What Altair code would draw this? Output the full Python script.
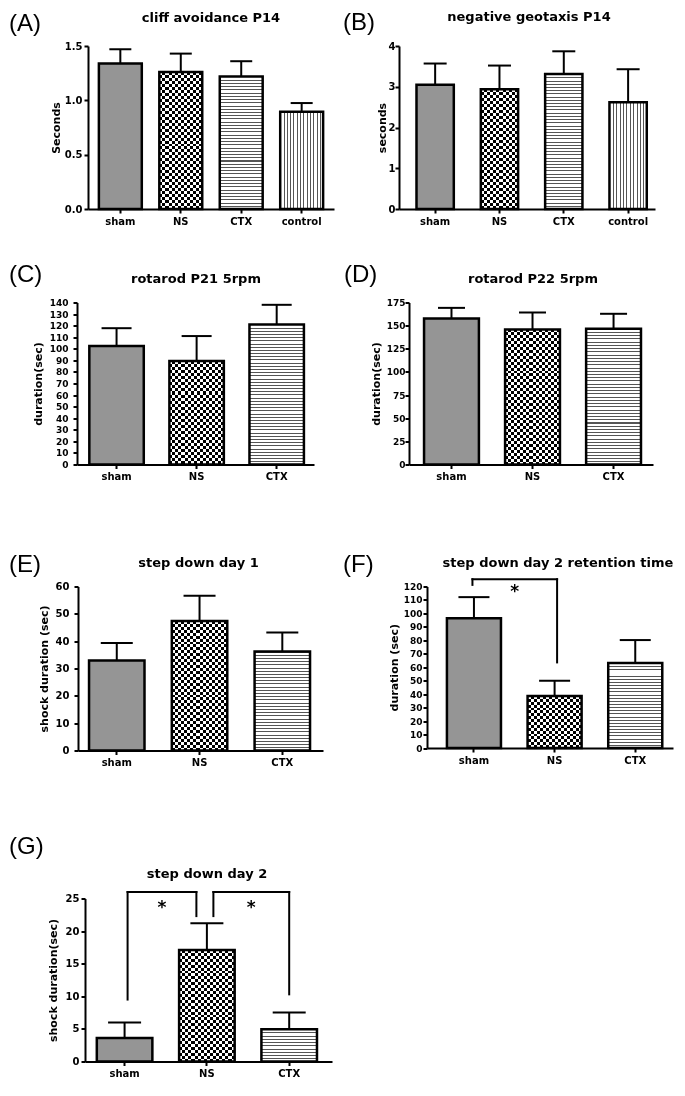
import altair as alt
import pandas as pd

TXT = "DejaVu Sans"
LET = "Liberation Sans"

# ------------------------------------------------------------------ data
groups3 = ["sham", "NS", "CTX"]
groups4 = ["sham", "NS", "CTX", "control"]

A_mean = [1.34, 1.26, 1.22, 0.895]
A_top = [1.47, 1.43, 1.36, 0.975]

B_mean = [3.05, 2.94, 3.31, 2.62]
B_top = [3.57, 3.52, 3.87, 3.43]

C_mean = [102.3, 89.4, 121.0]
C_top = [117.8, 111.0, 138.0]

D_mean = [157.7, 145.9, 146.6]
D_top = [169.2, 164.2, 162.8]

E_mean = [32.9, 47.4, 36.2]
E_top = [39.3, 56.6, 43.2]

F_mean = [96.5, 38.6, 63.1]
F_top = [112.1, 50.0, 80.2]

G_mean = [3.62, 17.1, 4.95]
G_top = [5.97, 21.2, 7.5]

# significance brackets
F_from = ["sham"]
F_to = ["NS"]
F_low_from = [121.2]
F_low_to = [63.6]
F_brk_top = [125.4]
F_star = [119.0]

G_from = ["sham", "NS"]
G_to = ["NS", "CTX"]
G_low_from = [9.5, 22.3]
G_low_to = [22.3, 10.3]
G_brk_top = [26.0, 26.0]
G_star = [24.1, 24.1]

PATTERN = {"sham": "dots", "NS": "check", "CTX": "hstripe", "control": "vstripe"}


def stripes(length_px, period, dark_px, dark, light, horizontal):
    n = max(1, int(round(length_px / period)))
    frac = dark_px / period
    stops = []
    for i in range(n):
        s = i / n
        m = (i + frac) / n
        e = (i + 1) / n
        stops += [alt.GradientStop(offset=s, color=dark),
                  alt.GradientStop(offset=m, color=dark),
                  alt.GradientStop(offset=m, color=light),
                  alt.GradientStop(offset=e, color=light)]
    if horizontal:
        return alt.LinearGradient(gradient="linear", stops=stops, x1=0, x2=0, y1=0, y2=1)
    return alt.LinearGradient(gradient="linear", stops=stops, x1=0, x2=1, y1=0, y2=0)


def panel(letter, title, cats, means, tops, ytitle, ymax, yvals, yfmt,
          width, height, pi, po, align, cap, letter_xy, title_xy,
          ylab_size, lab_pad, title_pad,
          brk=None, brk_off=None):
    n = len(cats)
    step = width / (n - pi + 2 * po)
    bw = step * (1 - pi)
    xscale = alt.Scale(domain=cats, paddingInner=pi, paddingOuter=po, align=align)
    yscale = alt.Scale(domain=[0, ymax], nice=False, zero=True)
    xaxis = alt.Axis(labelAngle=0, labelFont=TXT, labelFontWeight="bold", labelFontSize=10,
                     labelColor="black", labelPadding=3, tickSize=4, tickWidth=2,
                     tickColor="black", domainWidth=2, domainColor="black", grid=False,
                     labelOverlap=False)
    yaxis = alt.Axis(values=yvals, format=yfmt, labelFont=TXT, labelFontWeight="bold",
                     labelFontSize=ylab_size, labelColor="black", labelPadding=lab_pad,
                     tickSize=4, tickWidth=2, tickColor="black", domainWidth=2,
                     domainColor="black", grid=False, labelOverlap=False, labelFlush=False,
                     titleFont=TXT, titleFontSize=11, titleFontWeight="bold",
                     titleColor="black", titlePadding=title_pad)
    X = alt.X("cat:N", scale=xscale, axis=xaxis, title=None)
    Y = alt.Y("y:Q", scale=yscale, axis=yaxis, title=ytitle)

    layers = []
    for c, m in zip(cats, means):
        df = pd.DataFrame({"cat": [c], "y": [m]})
        base = alt.Chart(df).encode(x=X, y=Y)
        hpx = m / ymax * height
        kind = PATTERN[c]
        if kind == "dots":
            layers.append(base.mark_bar(fill="#959595", strokeWidth=0))
        elif kind == "hstripe":
            layers.append(base.mark_bar(fill=stripes(hpx, 3.2, 1.0, "#555555", "#ffffff", True),
                                        strokeWidth=0))
        elif kind == "vstripe":
            layers.append(base.mark_bar(fill=stripes(bw, 3.3, 1.0, "#555555", "#ffffff", False),
                                        strokeWidth=0))
        else:
            layers.append(base.mark_bar(fill=stripes(bw, 6, 3, "#000000", "#ffffff", False),
                                        strokeWidth=0))
            layers.append(base.mark_bar(fill=stripes(hpx, 6, 3, "#ffffff", "#000000", True),
                                        strokeWidth=0, blend="difference"))

    df_all = pd.DataFrame({"cat": cats, "y": means, "y2": tops})
    layers.append(alt.Chart(df_all).mark_bar(fill="transparent", stroke="black", strokeWidth=2.5)
                  .encode(x=X, y=Y))
    layers.append(alt.Chart(df_all).mark_rule(color="black", strokeWidth=2)
                  .encode(x=X, y=Y, y2="y2:Q"))
    df_cap = pd.DataFrame({"cat": cats, "y": tops})
    layers.append(alt.Chart(df_cap).mark_tick(color="black", size=cap, thickness=2, opacity=1,
                                              orient="horizontal")
                  .encode(x=X, y=Y))

    if brk is not None:
        frm, to, lo_a, lo_b, top, star = brk
        for i in range(len(frm)):
            oa, ob = brk_off[i]
            leg_a = pd.DataFrame({"cat": [frm[i]], "y": [lo_a[i]], "y2": [top[i]]})
            leg_b = pd.DataFrame({"cat": [to[i]], "y": [lo_b[i]], "y2": [top[i]]})
            bar_t = pd.DataFrame({"cat": [frm[i]], "cat2": [to[i]], "y": [top[i]]})
            st = pd.DataFrame({"cat": [frm[i]], "y": [star[i]]})
            layers.append(alt.Chart(leg_a).mark_rule(color="black", strokeWidth=2,
                                                     strokeCap="square", xOffset=oa)
                          .encode(x=X, y=Y, y2="y2:Q"))
            layers.append(alt.Chart(leg_b).mark_rule(color="black", strokeWidth=2,
                                                     strokeCap="square", xOffset=ob)
                          .encode(x=X, y=Y, y2="y2:Q"))
            layers.append(alt.Chart(bar_t).mark_rule(color="black", strokeWidth=2,
                                                     strokeCap="square", xOffset=oa, x2Offset=ob)
                          .encode(x=X, x2="cat2:N", y=Y))
            layers.append(alt.Chart(st).mark_text(text="*", font=TXT, fontWeight="bold",
                                                  fontSize=17, color="black",
                                                  dx=(oa + step + ob) / 2, dy=9,
                                                  baseline="alphabetic")
                          .encode(x=X, y=Y))

    lab = pd.DataFrame({"t": [letter]})
    layers.append(alt.Chart(lab).mark_text(font=LET, fontSize=24, align="left",
                                           baseline="middle", color="black")
                  .encode(text="t:N", x=alt.value(letter_xy[0]), y=alt.value(letter_xy[1])))
    ttl = pd.DataFrame({"t": [title]})
    layers.append(alt.Chart(ttl).mark_text(font=TXT, fontSize=13, fontWeight="bold",
                                           align="center", baseline="middle", color="black")
                  .encode(text="t:N", x=alt.value(title_xy[0]), y=alt.value(title_xy[1])))
    return alt.layer(*layers).properties(width=width, height=height)


def spacer():
    # invisible 1x1 anchor so that every row starts at the same left edge
    return alt.Chart(pd.DataFrame({"t": [""]})).mark_text(opacity=0).encode(
        text="t:N").properties(width=1, height=1)


pA = panel("(A)", "cliff avoidance P14", groups4, A_mean, A_top, "Seconds", 1.5,
           [0, 0.5, 1.0, 1.5], ".1f", 246, 163, 0.29, 0.18, 0.5, 22,
           (-79, -22.5), (123, -28), 10, 2, 3)
pB = panel("(B)", "negative geotaxis P14", groups4, B_mean, B_top, "seconds", 4,
           [0, 1, 2, 3, 4], "d", 256, 163, 0.42, 0.2, 0.68, 23,
           (-56, -23.5), (130, -29), 10, 0, 1)
pC = panel("(C)", "rotarod P21 5rpm", groups3, C_mean, C_top, "duration(sec)", 140,
           list(range(0, 141, 10)), "d", 237, 162, 0.32, 0.14, 0.55, 30,
           (-68, -27.5), (119, -24), 9, 5, 6)
pD = panel("(D)", "rotarod P22 5rpm", groups3, D_mean, D_top, "duration(sec)", 175,
           list(range(0, 176, 25)), "d", 244, 162, 0.323, 0.167, 0.556, 27,
           (-65, -27.5), (124, -24), 9, 0, 5)
pE = panel("(E)", "step down day 1", groups3, E_mean, E_top, "shock duration (sec)", 60,
           list(range(0, 61, 10)), "d", 245, 164, 0.33, 0.145, 0.46, 32,
           (-69, -22), (120.5, -24), 10, 5, 6)
pF = panel("(F)", "step down day 2 retention time", groups3, F_mean, F_top, "duration (sec)", 120,
           list(range(0, 121, 10)), "d", 246, 161.5, 0.33, 0.19, 0.65, 31,
           (-84, -22), (131, -24), 9, 1, 4,
           brk=(F_from, F_to, F_low_from, F_low_to, F_brk_top, F_star),
           brk_off=[(-1.5, 2.5)])
pG = panel("(G)", "step down day 2", groups3, G_mean, G_top, "shock duration(sec)", 25,
           list(range(0, 26, 5)), "d", 247, 163, 0.325, 0.163, 0.44, 33,
           (-76, -51.5), (122, -25), 10, 2, 7,
           brk=(G_from, G_to, G_low_from, G_low_to, G_brk_top, G_star),
           brk_off=[(3, -10.5), (6.5, 0)])

row1 = alt.hconcat(spacer(), alt.hconcat(pA, pB, spacing=9), spacing=0)
row2 = alt.hconcat(spacer(), alt.hconcat(pC, pD, spacing=30), spacing=0)
row3 = alt.hconcat(spacer(), alt.hconcat(pE, pF, spacing=20), spacing=0)
row4 = alt.hconcat(spacer(), pG, spacing=0)

top_block = alt.vconcat(row1, row2, spacing=36.5)
bottom_block = alt.vconcat(row3, row4, spacing=67)

chart = alt.vconcat(top_block, bottom_block, spacing=70.5).properties(
    padding={"left": 0, "top": 2, "right": 2, "bottom": 2},
    background="white",
).configure_view(strokeWidth=0)

chart.save("out.html", embed_options={"renderer": "svg", "actions": False})
